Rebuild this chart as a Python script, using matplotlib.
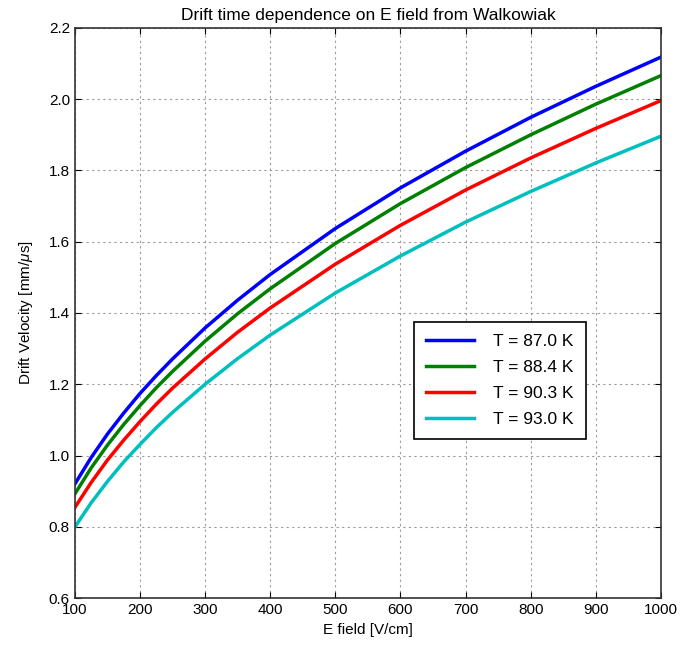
import matplotlib.pyplot as plt

plt.rcParams['font.family'] = ['Liberation Sans', 'DejaVu Sans']
plt.rcParams['mathtext.fontset'] = 'custom'
plt.rcParams['mathtext.it'] = 'Liberation Sans:italic'

# E field in V/cm
e_field = [100, 125, 150, 175, 200, 225, 250, 300, 350, 400, 500, 600, 700, 800, 900, 1000]

# drift velocity in mm/us
v_87_0 = [0.920, 0.994, 1.060, 1.119, 1.174, 1.224, 1.271, 1.358, 1.436, 1.508,
          1.637, 1.751, 1.854, 1.949, 2.036, 2.118]
v_88_4 = [0.892, 0.965, 1.029, 1.087, 1.140, 1.190, 1.236, 1.321, 1.398, 1.468,
          1.595, 1.707, 1.808, 1.900, 1.986, 2.066]
v_90_3 = [0.854, 0.924, 0.987, 1.043, 1.095, 1.144, 1.189, 1.271, 1.346, 1.414,
          1.537, 1.646, 1.745, 1.835, 1.918, 1.996]
v_93_0 = [0.799, 0.867, 0.927, 0.982, 1.031, 1.078, 1.121, 1.200, 1.272, 1.338,
          1.456, 1.560, 1.655, 1.741, 1.821, 1.896]

labels = ["T = 87.0 K", "T = 88.4 K", "T = 90.3 K", "T = 93.0 K"]
colors = ["#0000ff", "#008000", "#ff0000", "#00bfbf"]

fig = plt.figure(figsize=(6.8, 6.48), dpi=100)
ax = fig.add_axes([0.110, 0.077, 0.862, 0.880])

for v, lab, col in zip([v_87_0, v_88_4, v_90_3, v_93_0], labels, colors):
    ax.plot(e_field, v, color=col, lw=2.5, label=lab)

ax.set_xlim(100, 1000)
ax.set_ylim(0.6, 2.2)
ax.set_xticks(range(100, 1001, 100))
ax.set_yticks([0.6, 0.8, 1.0, 1.2, 1.4, 1.6, 1.8, 2.0, 2.2])
ax.grid(True, ls=(0, (2, 3)), color="#999999", lw=0.8)
ax.tick_params(direction="in", length=4, labelsize=11, top=True, right=True)
for s in ax.spines.values():
    s.set_color("#333333")
    s.set_linewidth(1.2)

ax.set_title("Drift time dependence on E field from Walkowiak", fontsize=12.5, pad=6)
ax.set_xlabel("E field [V/cm]", fontsize=11, labelpad=4)
ax.set_ylabel(r"Drift Velocity [mm/$\mu$s]", fontsize=11, labelpad=10)

leg = ax.legend(loc="upper left", bbox_to_anchor=(0.578, 0.485), borderaxespad=0,
                fontsize=12.5, fancybox=False, framealpha=1, edgecolor="black",
                handlelength=2.8, handletextpad=1.1, borderpad=0.7, labelspacing=0.62)
leg.get_frame().set_linewidth(1.2)

fig.savefig("out.png", dpi=100)
